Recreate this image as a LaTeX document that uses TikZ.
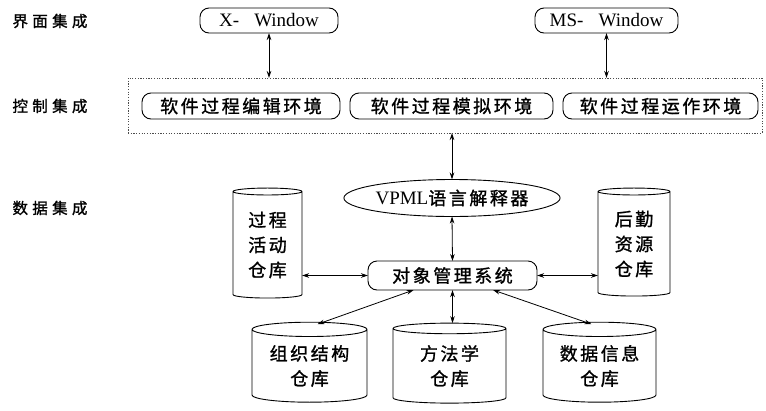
\documentclass[tikz,border=0pt]{standalone}
\usepackage{fontspec}
\setmainfont{Liberation Serif}
\newfontfamily\cjk[LetterSpace=14,FakeBold=1.2]{Noto Sans CJK SC}
\newfontfamily\cjkwide[LetterSpace=28,FakeBold=1.2]{Noto Sans CJK SC}
\usetikzlibrary{shapes.geometric,arrows.meta,calc}

\tikzset{
  every node/.style={inner sep=0pt, outer sep=0pt},
  rowlabel/.style={font=\cjkwide\fontsize{15.5}{15.5}\selectfont, anchor=center},
  roundbox/.style={draw, line width=0.9pt, rounded corners=9pt, minimum height=26pt,
                   font=\cjk\fontsize{18}{18}\selectfont},
  winbox/.style={draw, line width=0.9pt, rounded corners=9pt, minimum height=25pt,
                 font=\fontsize{19}{19}\selectfont},
  ctrlbox/.style={draw=black!70, line width=0.6pt, dash pattern=on 1.2pt off 1.5pt},
  store/.style={cylinder, shape border rotate=90, draw, line width=0.9pt, aspect=0.18,
                align=center, font=\cjk\fontsize{18}{25}\selectfont},
  link/.style={line width=0.8pt, {Stealth[length=7pt,width=4.5pt]}-{Stealth[length=7pt,width=4.5pt]}},
}

\begin{document}
\begin{tikzpicture}[x=1pt, y=-1pt]
\useasboundingbox (0,0) rectangle (766,410);

% row labels
\node[rowlabel] (lui)   at (50,21)  {界面集成};
\node[rowlabel] (lctl)  at (50,106) {控制集成};
\node[rowlabel] (ldata) at (50,208) {数据集成};

% user interface layer
\node[winbox, minimum width=138pt] (xw)  at (269,20.5)   {X-\hspace{0.8em}Window};
\node[winbox, minimum width=143pt] (msw) at (606.5,20.5) {MS-\hspace{0.8em}Window};

% control layer
\node[ctrlbox, minimum width=634pt, minimum height=55pt] (ctrl) at (445,105.5) {};
\node[roundbox, minimum width=198pt] (e1) at (241,106)   {软件过程编辑环境};
\node[roundbox, minimum width=203pt] (e2) at (451.5,106) {软件过程模拟环境};
\node[roundbox, minimum width=195pt] (e3) at (660.5,106) {软件过程运作环境};

% data layer
\node[ellipse, draw, line width=0.9pt, minimum width=198pt, minimum height=37pt,
      font=\fontsize{19}{19}\selectfont]
  (vpml) at (452,198) {VPML{\cjk\fontsize{18}{18}\selectfont 语言解释器}};
\node[roundbox, minimum width=169pt, minimum height=29pt] (oms) at (452.5,275.5) {对象管理系统};

\node[store, minimum width=69pt, minimum height=110pt] (c1) at (267.5,245) {过程\\活动\\仓库};
\node[store, minimum width=72pt, minimum height=108pt] (c2) at (634,244)   {后勤\\资源\\仓库};

\node[store, minimum width=115pt, minimum height=80pt] (b1) at (309.5,366) {组织结构\\仓库};
\node[store, minimum width=113pt, minimum height=80pt] (b2) at (449.5,366) {方法学\\仓库};
\node[store, minimum width=113pt, minimum height=80pt] (b3) at (599.5,366) {数据信息\\仓库};

% connectors
\draw[link] (xw.south) -- (xw.south |- ctrl.north);
\draw[link] (msw.south) -- (msw.south |- ctrl.north);
\draw[link] (vpml.north |- ctrl.south) -- (vpml.north);
\draw[link] (vpml.south) -- (oms.north);
\draw[link] (c1.east |- oms.west) -- (oms.west);
\draw[link] (oms.east) -- (c2.west |- oms.east);
\draw[link] ($(oms.south west)!0.27!(oms.south east)$) -- ($(b1.top)+(8,2)$);
\draw[link] (b2.top -| oms.south) -- (oms.south);
\draw[link] ($(oms.south west)!0.74!(oms.south east)$) -- ($(b3.top)+(-8,2)$);
\end{tikzpicture}
\end{document}
